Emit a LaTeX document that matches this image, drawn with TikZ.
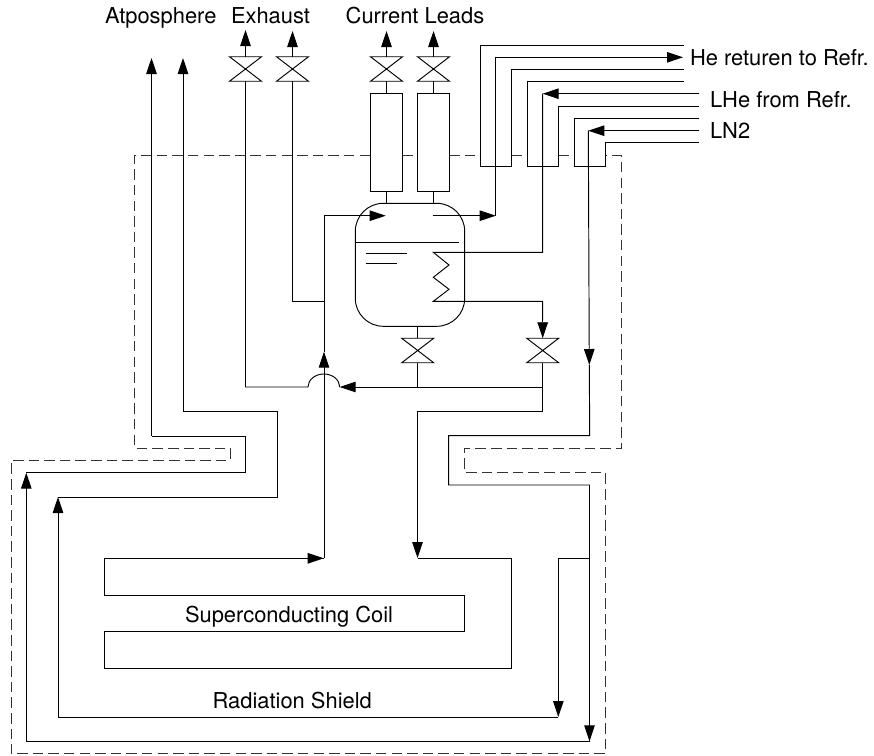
\documentclass[tikz,border=0pt]{standalone}
\usepackage{fontspec}
\setmainfont{TeX Gyre Heros}
\usetikzlibrary{arrows.meta}
\tikzset{
  pipe/.style={draw=black,line width=0.95pt,line join=miter},
  flow/.style={pipe,-{Triangle[length=16pt,width=10.5pt]}},
  shielddash/.style={draw=black!80,line width=1pt,dash pattern=on 10.5pt off 5.1pt},
  valvebox/.style={rectangle,minimum width=32pt,minimum height=24.5pt,inner sep=0pt,outer sep=0pt},
  leadbox/.style={rectangle,pipe,fill=white,minimum width=32pt,minimum height=98pt,inner sep=0pt,outer sep=0pt},
  vesselbox/.style={rectangle,pipe,rounded corners=28pt,minimum width=109.4pt,minimum height=123pt,inner sep=0pt,outer sep=0pt},
  lbl/.style={anchor=base west,inner sep=0pt,outer sep=0pt,font=\fontsize{21.9pt}{24pt}\selectfont}
}
\newcommand{\valve}[2]{%
  \node[valvebox] (#1) at (#2) {};
  \draw[pipe] (#1.north west) -- (#1.south east) -- (#1.south west) -- (#1.north east) -- cycle;
}
\begin{document}
\begin{tikzpicture}[x=1pt,y=-1pt]
\useasboundingbox (0,0) rectangle (874,755);
% labels
\node[lbl] (tAtm) at (105,23.3) {Atposphere};
\node[lbl] (tExh) at (231,23.3) {Exhaust};
\node[lbl] (tCur) at (345.7,23.3) {Current Leads};
\node[lbl] (tHe) at (690,65.7) {He returen to Refr.};
\node[lbl] (tLHe) at (710,107.7) {LHe from Refr.};
\node[lbl] (tLN) at (710,138.7) {LN2};
\node[lbl] (tCoil) at (185,622.7) {Superconducting Coil};
\node[lbl] (tShield) at (212.7,708.3) {Radiation Shield};
% thermal shield outline (dashed), broken where lead boxes and tube loops pass
\draw[shielddash] (370,155) -- (134.7,155) -- (134.7,448) -- (230,448) -- (230,460.3) -- (11,460.3) -- (11,753.7) -- (605.3,753.7) -- (605.3,472.3) -- (464.7,472.3) -- (464.7,448) -- (621,448) -- (621,155) -- (605.3,155);
\draw[shielddash] (402,155) -- (417,155);
\draw[shielddash] (449,155) -- (480.3,155);
\draw[shielddash] (511.3,155) -- (527,155);
\draw[shielddash] (558.3,155) -- (574,155);
% valves
\valve{vE1}{245.5,69}
\valve{vE2}{292.5,69}
\valve{vC1}{386.5,69}
\valve{vC2}{433.5,69}
\valve{vB1}{417.7,350.5}
\valve{vB2}{542.7,350.5}
% current lead boxes
\node[leadbox] (L1) at (386,142.7) {};
\node[leadbox] (L2) at (433,142.7) {};
% helium vessel
\node[vesselbox] (tank) at (410,264.8) {};
\draw[pipe] (L1.south) -- (L1.south |- tank.north);
\draw[pipe] (L2.south) -- (L2.south |- tank.north);
\draw[pipe] (vC1.south) -- (L1.north -| vC1.south);
\draw[pipe] (vC2.south) -- (L2.north -| vC2.south);
\coordinate (aE1) at (245.5,30);
\coordinate (aE2) at (292.5,31);
\coordinate (aC1) at (386.5,31);
\coordinate (aC2) at (433.5,31);
\draw[flow] (vE1.north) -- (aE1);
\draw[flow] (vE2.north) -- (aE2);
\draw[flow] (vC1.north) -- (aC1);
\draw[flow] (vC2.north) -- (aC2);
% inside the vessel
\draw[pipe] (355.3,242.7) -- (459.3,242.7);
\draw[pipe] (365.7,253.3) -- (407.3,253.3);
\draw[pipe] (365.7,263.7) -- (396.7,263.7);
\draw[pipe] (542.7,93.7) -- (542.7,252.3) -- (433.3,252.3) -- (449,265) -- (433.3,277.3) -- (449,289.3) -- (433.3,301.3) -- (542.7,301.3) -- (542.7,320);
\draw[flow] (542.7,320) -- (vB2.north);
% vessel top in/out
\draw[flow] (324,300) -- (324,215.7) -- (385.7,215.7);
\draw[pipe] (324,301.3) -- (292.5,301.3) -- (vE2.south);
\draw[flow] (433.3,215.7) -- (495.7,215.7);
\draw[flow] (495.7,215.7) -- (495.7,57.3) -- (683,57.3);
% tube loops at top right
\draw[pipe] (683.7,45) -- (480.3,45) -- (480.3,166.7) -- (511.3,166.7) -- (511.3,69.3) -- (683.7,69.3);
\draw[pipe] (683.7,81.7) -- (527,81.7) -- (527,166.7) -- (558.3,166.7) -- (558.3,106) -- (699.3,106);
\draw[pipe] (699.3,118.3) -- (574,118.3) -- (574,166.7) -- (605.3,166.7) -- (605.3,142.7) -- (699.3,142.7);
\draw[flow] (699.3,93.7) -- (542.7,93.7);
\draw[flow] (699.3,130.7) -- (588.3,130.7);
% LN2 line
\draw[flow] (588.3,130.7) -- (589.3,365);
\draw[pipe] (589.3,365) -- (589.7,435.7) -- (448.7,435.7) -- (448.7,485) -- (589.5,485) -- (589.5,725);
\draw[flow] (589.5,725) -- (589.5,741.3);
\draw[flow] (589.5,741.3) -- (26.3,741.3) -- (26.3,472.7);
\draw[pipe] (26.3,472.7) -- (245.7,472.7) -- (245.7,436) -- (151.5,436);
\draw[flow] (151.5,436) -- (151.5,58);
\draw[pipe] (589.5,558.3) -- (558.3,558.3);
\draw[flow] (558.3,558.3) -- (558.3,717);
\draw[flow] (558.3,717) -- (58,717) -- (58,497);
\draw[pipe] (58,497) -- (277,497) -- (277,411.7) -- (183,411.7);
\draw[flow] (183,411.7) -- (183,58);
% helium return with bridge
\draw[pipe] (tank.south -| vB1.north) -- (vB1.north);
\draw[pipe] (vB1.south) -- (417.7,387);
\draw[pipe] (vB2.south) -- (542.7,411.3) -- (417.5,411.3);
\draw[flow] (417.5,411.3) -- (417.5,558);
\draw[flow] (542.7,387) -- (339.7,387);
\draw[pipe] (339.7,387) arc[start angle=0,end angle=-180,x radius=15.85,y radius=13] -- (245.5,387) -- (vE1.south);
% coil
\draw[pipe] (417.5,558.3) -- (511.7,558.3) -- (511.7,668) -- (104.7,668) -- (104.7,631.3) -- (464.7,631.3) -- (464.7,595) -- (104.7,595) -- (104.7,558.3) -- (323.7,558.3);
\draw[flow] (300,558.3) -- (323.7,558.3);
\draw[pipe] (324,558.3) -- (324,360);
\draw[flow] (324,380) -- (324,351.7);
\draw[pipe] (324,351.7) -- (324,300);
\end{tikzpicture}
\end{document}
